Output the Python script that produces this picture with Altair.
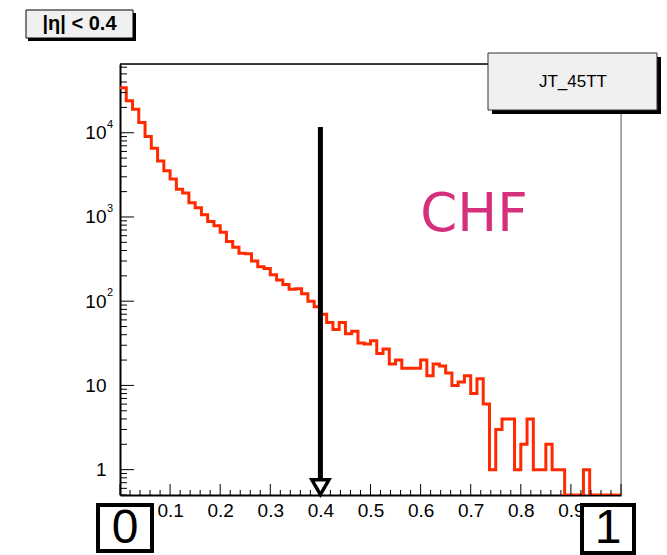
import altair as alt
import pandas as pd

# ---- data (80 bins of width 0.0125 on [0,1]) ----
counts = [34300, 24000, 19000, 13200, 9000, 6550, 4630, 3550, 2830, 2140,
          1920, 1480, 1290, 1060, 882, 784, 660, 511, 438, 372,
          365, 300, 256, 245, 206, 179, 158, 139, 141, 123,
          100, 86, 70, 56, 46, 56, 41, 44, 32, 31,
          34, 24, 27, 18, 20, 16, 16, 16, 20, 13,
          18, 17, 14, 10, 11, 13, 8, 12, 6, 1,
          3, 4, 4, 1, 2, 4, 1, 1, 2, 1,
          1, 0, 0, 0, 1, 0, 0, 0, 0, 0]
bin_width = 0.0125
x_label_values = [0.1, 0.2, 0.3, 0.4, 0.5, 0.6, 0.7, 0.8, 0.9]
y_label_values = [1, 10, 100, 1000, 10000]
y_exponents = ["2", "3", "4"]
y_exp_values = [100, 1000, 10000]
arrow_x = [0.4]
arrow_top = [11700]
arrow_bottom = [0.6]
arrow_head = [0.62]
y_min, y_max = 0.5, 65500

# ---- tables ----
edges = [i * bin_width for i in range(len(counts))] + [1.0]
hist = pd.DataFrame({"x": edges, "n": counts + [counts[-1]]})

x_major = [i / 10 for i in range(0, 11)]
x_minor = [i / 50 for i in range(0, 51) if i % 5 != 0]
y_major = [1, 10, 100, 1000, 10000]
y_minor = [m * d for d in [0.1, 1, 10, 100, 1000, 10000] for m in range(2, 10)
           if y_min <= m * d <= y_max]

W, H = 501, 431
xs = alt.Scale(domain=[0, 1], nice=False, zero=False)
ys = alt.Scale(type="log", domain=[y_min, y_max], nice=False, clamp=True)

one = pd.DataFrame({"k": [0]})


def X(f):
    return alt.X(f, scale=xs, title=None)


def Y(f):
    return alt.Y(f, scale=ys, title=None)


# histogram outline (carries the axes)
line = alt.Chart(hist).transform_calculate(
    ny="max(datum.n, 0.5)"
).mark_line(interpolate="step-after", color="#ff2a00", strokeWidth=3,
            strokeJoin="miter", clip=True).encode(
    x=alt.X("x:Q", scale=xs, title=None,
            axis=alt.Axis(values=x_label_values, format=".1f")),
    y=alt.Y("ny:Q", scale=ys, title=None,
            axis=alt.Axis(values=y_label_values,
                          labelExpr="datum.value == 1 ? '1' : '10'")),
)

# frame top and right
frame_top = alt.Chart(one).mark_rule(color="black", strokeWidth=1.5).encode(
    x=alt.value(0), x2=alt.value(W), y=alt.value(0))
frame_right = alt.Chart(one).mark_rule(color="#666666", strokeWidth=1).encode(
    x=alt.value(W), y=alt.value(0), y2=alt.value(H))

# ticks (inward, ROOT style)
xmaj = alt.Chart(pd.DataFrame({"t": x_major})).mark_rule(color="black", strokeWidth=1).encode(
    x=X("t:Q"), y=alt.value(H), y2=alt.value(H - 11))
xmin = alt.Chart(pd.DataFrame({"t": x_minor})).mark_rule(color="black", strokeWidth=1).encode(
    x=X("t:Q"), y=alt.value(H), y2=alt.value(H - 5))
ymaj = alt.Chart(pd.DataFrame({"t": y_major})).mark_rule(color="black", strokeWidth=1).encode(
    y=Y("t:Q"), x=alt.value(0), x2=alt.value(14))
ymin = alt.Chart(pd.DataFrame({"t": y_minor})).mark_rule(color="black", strokeWidth=1).encode(
    y=Y("t:Q"), x=alt.value(0), x2=alt.value(7))

# exponents of the y labels
exps = alt.Chart(pd.DataFrame({"v": y_exp_values, "e": y_exponents})).mark_text(
    align="left", baseline="middle", fontSize=11, dy=-8, font="Liberation Sans", color="black"
).encode(x=alt.value(-13), y=Y("v:Q"), text="e:N")

# arrow at 0.4
arrow_df = pd.DataFrame({"x": arrow_x, "top": arrow_top, "bot": arrow_bottom, "head": arrow_head})
arrow = alt.Chart(arrow_df).mark_rule(color="black", strokeWidth=5).encode(
    x=X("x:Q"), y=Y("top:Q"), y2="bot:Q")
head = alt.Chart(arrow_df).mark_point(shape="triangle-down", size=290, filled=True,
                                      fill="white", stroke="black", strokeWidth=3.5,
                                      opacity=1).encode(
    x=X("x:Q"), y=Y("head:Q"))

# CHF label
chf = alt.Chart(one).mark_text(text="CHF", font="DejaVu Sans", fontSize=53,
                               color="#d6307c", align="center", baseline="middle").encode(
    x=alt.value(354), y=alt.value(151))

# title box |eta| < 0.4
t_shadow = alt.Chart(one).mark_rect(color="black").encode(
    x=alt.value(-92), x2=alt.value(16), y=alt.value(-51), y2=alt.value(-23))
t_box = alt.Chart(one).mark_rect(fill="#f0f0f0", stroke="black", strokeWidth=1).encode(
    x=alt.value(-94), x2=alt.value(13), y=alt.value(-54), y2=alt.value(-26))
t_text = alt.Chart(one).mark_text(text="|η| < 0.4", font="Liberation Sans", fontWeight="bold",
                                  fontSize=20, color="black", align="center",
                                  baseline="middle").encode(
    x=alt.value(-40.5), y=alt.value(-40))

# legend box JT_45TT
l_shadow = alt.Chart(one).mark_rect(color="black").encode(
    x=alt.value(372), x2=alt.value(541), y=alt.value(-7), y2=alt.value(50))
l_box = alt.Chart(one).mark_rect(fill="#f0f0f0", stroke="#333333", strokeWidth=1).encode(
    x=alt.value(368), x2=alt.value(537), y=alt.value(-11), y2=alt.value(46))
l_text = alt.Chart(one).mark_text(text="JT_45TT", font="Liberation Sans", fontSize=17,
                                  color="black", align="center", baseline="middle").encode(
    x=alt.value(453), y=alt.value(18))

# boxed 0 and 1 below the axis
b0 = alt.Chart(one).mark_rect(fill="white", stroke="black", strokeWidth=4).encode(
    x=alt.value(-22), x2=alt.value(32), y=alt.value(441), y2=alt.value(487))
b0t = alt.Chart(one).mark_text(text="0", font="Liberation Sans", fontSize=48, color="black",
                               align="center", baseline="middle").encode(
    x=alt.value(5), y=alt.value(465))
b1 = alt.Chart(one).mark_rect(fill="white", stroke="black", strokeWidth=4).encode(
    x=alt.value(462), x2=alt.value(514), y=alt.value(441), y2=alt.value(489))
b1t = alt.Chart(one).mark_text(text="1", font="Liberation Sans", fontSize=48, color="black",
                               align="center", baseline="middle").encode(
    x=alt.value(488), y=alt.value(465))

chart = alt.layer(
    line, frame_top, frame_right, xmaj, xmin, ymaj, ymin, exps,
    arrow, head, chf,
    t_shadow, t_box, t_text, l_shadow, l_box, l_text,
    b0, b0t, b1, b1t,
).properties(
    width=W, height=H,
    autosize=alt.AutoSizeParams(type="none"),
    padding={"left": 120, "top": 64, "right": 46, "bottom": 60},
).configure_view(strokeWidth=0).configure(
    background="white", font="Liberation Sans"
).configure_axis(
    grid=False, ticks=False, tickSize=0, labelFontSize=19, labelColor="black",
    domainColor="black", domainWidth=2, labelFont="Liberation Sans", title=None
).configure_axisX(labelPadding=6).configure_axisY(labelPadding=14)

chart.save("out.html", embed_options={"renderer": "svg", "actions": False})
